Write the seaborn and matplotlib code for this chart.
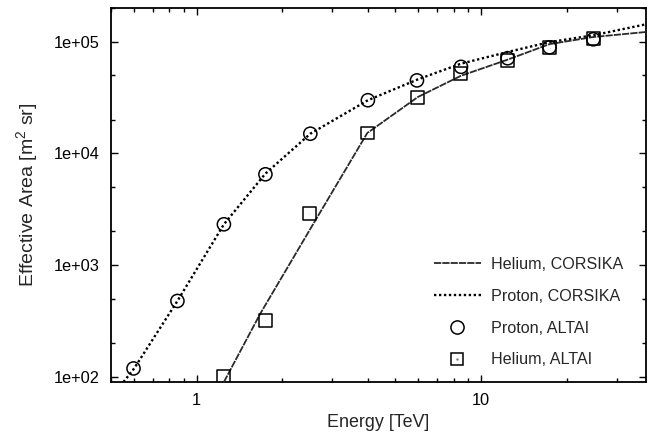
import numpy as np
import pandas as pd
import matplotlib
matplotlib.use("Agg")
import matplotlib.pyplot as plt
from matplotlib.lines import Line2D
from matplotlib.legend_handler import HandlerTuple
import seaborn as sns

# ---- data ----
proton_line_energy = [0.553, 0.603, 0.856, 1.247, 1.745, 2.51, 4.0, 6.0, 8.5, 12.4, 17.4, 24.8, 38.0]
proton_line_area = [90, 119, 478, 2320, 6590, 15000, 29900, 46000, 63500, 80800, 99000, 114000, 143000]

helium_line_energy = [1.247, 1.677, 2.616, 3.98, 6.0, 8.5, 12.4, 17.4, 24.8, 38.0]
helium_line_area = [90, 371, 2520, 15200, 32000, 49500, 69000, 95000, 110000, 122000]

proton_altai_energy = [0.60, 0.856, 1.247, 1.745, 2.51, 4.0, 5.95, 8.5, 12.4, 17.4, 24.8]
proton_altai_area = [119, 478, 2320, 6500, 15000, 29900, 45000, 59500, 71000, 89000, 105000]

helium_altai_energy = [1.24, 1.745, 2.49, 4.0, 5.98, 8.45, 12.4, 17.4, 24.8]
helium_altai_area = [100, 321, 2900, 15200, 31600, 51500, 68000, 88000, 106000]

x_ticks = [1, 10]
x_tick_labels = ["1", "10"]
y_ticks = [1e2, 1e3, 1e4, 1e5]
y_tick_labels = ["1e+02", "1e+03", "1e+04", "1e+05"]

sns.set_style("ticks")
plt.rcParams["font.family"] = ["Liberation Sans", "DejaVu Sans"]
plt.rcParams["mathtext.fontset"] = "custom"
plt.rcParams["mathtext.rm"] = "Liberation Sans"

W, H = 647, 434
fig = plt.figure(figsize=(W / 100, H / 100), dpi=100)
ax = fig.add_axes([111 / W, 1 - 382 / H, (646 - 111) / W, (382 - 8) / H])

df_pl = pd.DataFrame({"E": proton_line_energy, "A": proton_line_area})
df_hl = pd.DataFrame({"E": helium_line_energy, "A": helium_line_area})
df_pa = pd.DataFrame({"E": proton_altai_energy, "A": proton_altai_area})
df_ha = pd.DataFrame({"E": helium_altai_energy, "A": helium_altai_area})

he_style = dict(color="#2a2a2a", lw=1.3, linestyle=(0, (4, 0.6)))
pr_style = dict(color="black", lw=1.7, linestyle=(0, (1, 1.1)))

sns.lineplot(data=df_hl, x="E", y="A", ax=ax, sort=False, zorder=3, **he_style)
sns.lineplot(data=df_pl, x="E", y="A", ax=ax, sort=False, zorder=3, **pr_style)
sns.scatterplot(data=df_pa, x="E", y="A", ax=ax, marker="o", s=90,
                facecolor="none", edgecolor="black", linewidth=1.1, zorder=4)
sns.scatterplot(data=df_ha, x="E", y="A", ax=ax, marker="s", s=85,
                facecolor="none", edgecolor="black", linewidth=1.1, zorder=4)
sns.scatterplot(data=df_ha, x="E", y="A", ax=ax, marker=".", s=2,
                color="#777777", linewidth=0, zorder=5)

ax.set_xscale("log")
ax.set_yscale("log")
ax.set_xlim(0.5, 38)
ax.set_ylim(90, 2e5)

ax.xaxis.set_major_locator(matplotlib.ticker.FixedLocator(x_ticks))
ax.xaxis.set_major_formatter(matplotlib.ticker.FixedFormatter(x_tick_labels))
ax.xaxis.set_minor_locator(matplotlib.ticker.LogLocator(base=10, subs=np.arange(2, 10), numticks=20))
ax.xaxis.set_minor_formatter(matplotlib.ticker.NullFormatter())
ax.yaxis.set_major_locator(matplotlib.ticker.FixedLocator(y_ticks))
ax.yaxis.set_major_formatter(matplotlib.ticker.FixedFormatter(y_tick_labels))
ax.yaxis.set_minor_locator(matplotlib.ticker.LogLocator(base=10, subs=[2, 5], numticks=20))
ax.yaxis.set_minor_formatter(matplotlib.ticker.NullFormatter())

ax.tick_params(which="both", direction="in", top=True, right=True, colors="black",
               labelsize=11.8, pad=8, width=1)
ax.tick_params(which="major", length=5)
ax.tick_params(which="minor", length=3)
for sp in ax.spines.values():
    sp.set_linewidth(1.3)
    sp.set_color("black")
    sp.set_visible(True)

ax.set_xlabel("Energy [TeV]", fontsize=12.9, labelpad=4)
ax.set_ylabel("Effective Area [m$^2$ sr]", fontsize=14, labelpad=9)

handles = [
    Line2D([], [], **he_style),
    Line2D([], [], **pr_style),
    Line2D([], [], marker="o", ls="none", ms=9.5, mfc="none", mec="black", mew=1.1),
    (Line2D([], [], marker="s", ls="none", ms=9, mfc="none", mec="black", mew=1.1),
     Line2D([], [], marker=".", ls="none", ms=1.5, color="#777777")),
]
labels = ["Helium, CORSIKA", "Proton, CORSIKA", "Proton, ALTAI", "Helium, ALTAI"]
ax.legend(handles, labels, loc="lower right", bbox_to_anchor=(0.985, 0.0), frameon=False,
          fontsize=11.6, handlelength=2.9, handletextpad=0.65, labelspacing=1.05,
          handler_map={tuple: HandlerTuple(ndivide=1, pad=0)})

fig.savefig("out.png", dpi=100)
